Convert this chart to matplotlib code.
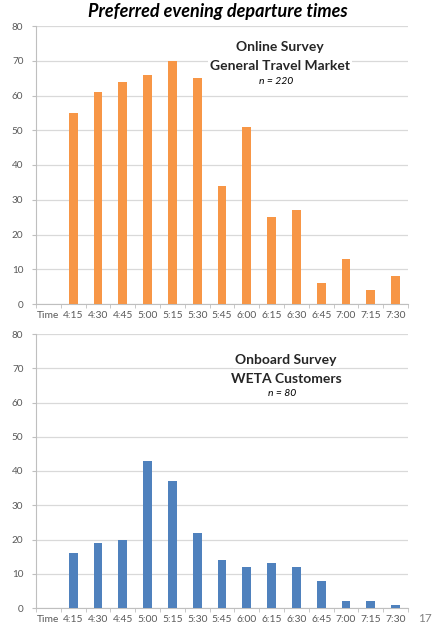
import matplotlib
matplotlib.use("Agg")
import matplotlib.pyplot as plt
import numpy as np

# data
times = ["Time", "4:15", "4:30", "4:45", "5:00", "5:15", "5:30", "5:45",
         "6:00", "6:15", "6:30", "6:45", "7:00", "7:15", "7:30"]
online = [None, 55, 61, 64, 66, 70, 65, 34, 51, 25, 27, 6, 13, 4, 8]
onboard = [None, 16, 19, 20, 43, 37, 22, 14, 12, 13, 12, 8, 2, 2, 1]

ORANGE = "#F79646"; BLUE = "#4F81BD"; GRID = "#D9D9D9"; AX = "#BFBFBF"; TXT = "#595959"
plt.rcParams.update({"font.family": ["Lato", "DejaVu Sans"], "font.size": 7})

fig = plt.figure(figsize=(4.35, 6.3), dpi=100)
W, H = 435, 630
def box(l, t, r, b):
    return [l / W, 1 - b / H, (r - l) / W, (b - t) / H]

panels = [
    (box(36, 26, 408, 304), online, ORANGE,
     ("Online Survey", "General Travel Market", "n = 220"), (280, 47, 66, 81)),
    (box(36, 334, 408, 608), onboard, BLUE,
     ("Onboard Survey", "WETA Customers", "n = 80"), (286, 360, 379, 393)),
]

x = np.arange(len(times))
for rect, vals, col, labels, (tx, y1, y2, y3) in panels:
    ax = fig.add_axes(rect)
    xs = [i for i, v in enumerate(vals) if v is not None]
    ys = [v for v in vals if v is not None]
    ax.bar(xs, ys, width=0.35, color=col, zorder=3)
    ax.set_xlim(-0.5, len(times) - 0.5)
    ax.set_ylim(0, 80)
    ax.set_yticks(range(0, 81, 10))
    ax.yaxis.grid(True, color=GRID, lw=0.9, zorder=0)
    ax.set_xticks(x)
    ax.set_xticklabels(times, color=TXT, fontsize=7.4)
    ax.set_xticks(np.arange(-0.5, len(times), 1), minor=True)
    ax.tick_params(axis="x", which="major", length=0, pad=5)
    ax.tick_params(axis="x", which="minor", length=3, color=AX)
    ax.tick_params(axis="y", length=3, color=AX, labelcolor=TXT, labelsize=7.2, pad=6)
    for s in ["top", "right"]:
        ax.spines[s].set_visible(False)
    for s in ["left", "bottom"]:
        ax.spines[s].set_color(AX)
        ax.spines[s].set_linewidth(0.8)
    bb = dict(boxstyle="square,pad=0.15", fc="white", ec="none")
    fig.text(tx / W, 1 - y1 / H, labels[0], ha="center", va="center",
             fontsize=10, fontweight="bold", color="#262626", bbox=bb, zorder=5)
    fig.text(tx / W, 1 - y2 / H, labels[1], ha="center", va="center",
             fontsize=10, fontweight="bold", color="#262626", bbox=bb, zorder=5)
    fig.text((tx - 4) / W, 1 - y3 / H, labels[2], ha="center", va="center",
             fontsize=7.5, style="italic", color="black")

fig.text(218 / W, 1 - 11 / H, "Preferred evening departure times", ha="center", va="center",
         fontsize=13, fontweight="bold", style="italic", color="black")
fig.text(425 / W, 1 - 618 / H, "17", ha="center", va="center", fontsize=8.5, color="#808080")

fig.savefig("out.png", dpi=100)
